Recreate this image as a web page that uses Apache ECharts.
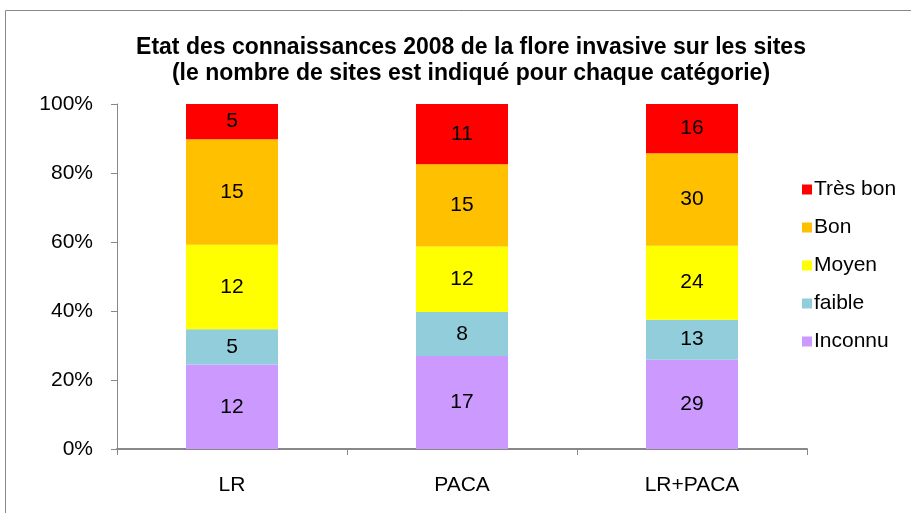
<!DOCTYPE html>
<html>
<head>
<meta charset="utf-8">
<script src="https://cdn.jsdelivr.net/npm/echarts@6/dist/echarts.min.js"></script>
<style>
  html, body { margin: 0; padding: 0; background: #fff; }
  #main { width: 911px; height: 513px; }
</style>
</head>
<body>
<div id="main"></div>
<script>
// counts (nombre de sites)
var sites = ['LR', 'PACA', 'LR+PACA'];
var inconnu = [12, 17, 29];
var faible = [5, 8, 13];
var moyen = [12, 12, 24];
var bon = [15, 15, 30];
var tresBon = [5, 11, 16];
var yTicks = [0, 20, 40, 60, 80, 100];

var layers = [
  { name: 'Inconnu', counts: inconnu, color: '#cc99ff' },
  { name: 'faible', counts: faible, color: '#92cddc' },
  { name: 'Moyen', counts: moyen, color: '#ffff00' },
  { name: 'Bon', counts: bon, color: '#ffc000' },
  { name: 'Très bon', counts: tresBon, color: '#ff0000' }
];

var totals = sites.map(function (s, i) {
  return layers.reduce(function (acc, l) { return acc + l.counts[i]; }, 0);
});

var font = 'Liberation Sans, Arial, sans-serif';

var series = layers.map(function (l) {
  return {
    name: l.name,
    type: 'bar',
    stack: 'all',
    barWidth: '40%',
    itemStyle: { color: l.color },
    label: {
      show: true,
      position: 'inside',
      color: '#000',
      fontFamily: font,
      fontSize: 21,
      formatter: function (p) { return l.counts[p.dataIndex]; }
    },
    data: l.counts.map(function (c, i) { return c / totals[i] * 100; })
  };
});

var myChart = echarts.init(document.getElementById('main'));
var option = {
  animation: false,
  graphic: [{
    type: 'rect',
    shape: { x: 5.5, y: 10.5, width: 1000, height: 1000 },
    style: { fill: 'none', stroke: '#888', lineWidth: 1 },
    silent: true
  }],
  title: {
    text: 'Etat des connaissances 2008 de la flore invasive sur les sites\n(le nombre de sites est indiqué pour chaque catégorie)',
    left: 466,
    textAlign: 'center',
    top: 30,
    textStyle: {
      fontFamily: font,
      fontWeight: 'bold',
      fontSize: 23,
      lineHeight: 26,
      color: '#000'
    }
  },
  legend: {
    orient: 'vertical',
    left: 797,
    top: 174,
    itemWidth: 10,
    itemHeight: 10,
    itemGap: 17,
    icon: 'rect',
    data: ['Très bon', 'Bon', 'Moyen', 'faible', 'Inconnu'],
    textStyle: { fontFamily: font, fontSize: 21, color: '#000', padding: [0, 0, 0, -3] }
  },
  grid: { left: 117, right: 104, top: 104, bottom: 64 },
  xAxis: {
    type: 'category',
    data: sites,
    axisLine: { lineStyle: { color: '#888', width: 2 } },
    axisTick: { show: true, length: 6, lineStyle: { color: '#888' } },
    axisLabel: { fontFamily: font, fontSize: 21, color: '#000', margin: 26 }
  },
  yAxis: {
    type: 'value',
    min: yTicks[0],
    max: yTicks[yTicks.length - 1],
    interval: 20,
    splitLine: { show: false },
    axisLine: { show: true, lineStyle: { color: '#888' } },
    axisTick: { show: true, length: 6, lineStyle: { color: '#888' } },
    axisLabel: { fontFamily: font, fontSize: 21, color: '#000', margin: 24, formatter: '{value}%' }
  },
  series: series
};
myChart.setOption(option);
</script>
</body>
</html>
